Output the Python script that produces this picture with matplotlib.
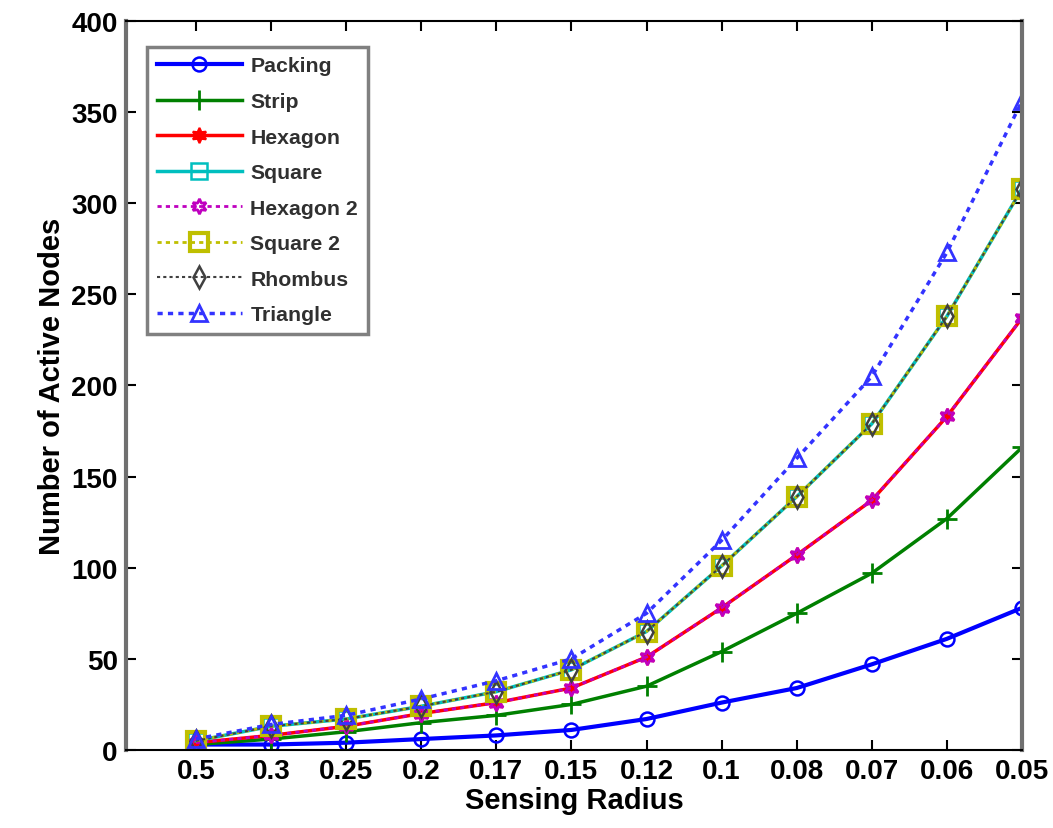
import matplotlib.pyplot as plt
import numpy as np

radius = ['0.5', '0.3', '0.25', '0.2', '0.17', '0.15', '0.12', '0.1', '0.08', '0.07', '0.06', '0.05']
packing = [3, 3, 4, 6, 8, 11, 17, 26, 34, 47, 61, 78]
strip = [3, 6, 10, 15, 19, 25, 35, 54, 75, 97, 127, 166]
hexagon = [4, 8, 13, 20, 26, 34, 51, 78, 107, 137, 183, 237]
hexagon2 = [4, 8, 13, 20, 26, 34, 51, 78, 107, 137, 183, 237]
square = [5, 13, 17, 24, 32, 44, 65, 101, 139, 179, 238, 308]
square2 = [5, 13, 17, 24, 32, 44, 65, 101, 139, 179, 238, 308]
rhombus = [5, 13, 17, 24, 32, 44, 65, 101, 139, 179, 238, 308]
triangle = [6, 14, 19, 28, 38, 50, 75, 115, 160, 205, 273, 356]

x = np.arange(1, len(radius) + 1)

plt.rcParams['font.family'] = ['Liberation Sans', 'DejaVu Sans']

fig = plt.figure(figsize=(10.53, 8.29), dpi=100)
ax = fig.add_axes([0.1197, 0.0941, 0.8509, 0.8794])

# six-pointed star like MATLAB's hexagram
hexagram = (6, 1, 0)
dots = (0, (1.5, 1.5))

ax.plot(x, packing, color='#0000ff', lw=3, marker='o', ms=10, mfc='none', mew=1.8, label='Packing')
ax.plot(x, strip, color='#008000', lw=2.5, marker='+', ms=14, mew=2, label='Strip')
ax.plot(x, hexagon, color='#ff0000', lw=2.5, marker=hexagram, ms=11, mfc='#ff0000', mew=1.5, label='Hexagon')
ax.plot(x, square, color='#00bfbf', lw=2.5, marker='s', ms=11, mfc='none', mew=1.8, label='Square')
ax.plot(x, hexagon2, color='#bf00bf', lw=2, ls=dots, marker=hexagram, ms=11, mfc='none', mew=2, label='Hexagon 2')
ax.plot(x, square2, color='#bfbf00', lw=2, ls=dots, marker='s', ms=13, mfc='none', mew=3, label='Square 2')
ax.plot(x, rhombus, color='#404040', lw=1.5, ls=dots, marker='d', ms=11, mfc='none', mew=1.8, label='Rhombus')
ax.plot(x, triangle, color='#3333ff', lw=2.5, ls=dots, marker='^', ms=12, mfc='none', mew=2, label='Triangle')

ax.set_xlim(0.07, 12)
ax.set_ylim(0, 400)
ax.set_xticks(x)
ax.set_xticklabels(radius)
ax.set_yticks(np.arange(0, 401, 50))
ax.tick_params(direction='in', length=7, width=1.5, labelsize=20, top=True, right=True, pad=6)
for lab in ax.get_xticklabels() + ax.get_yticklabels():
    lab.set_fontweight('bold')
for side in ['left', 'right', 'bottom']:
    ax.spines[side].set_color('#707070')
    ax.spines[side].set_linewidth(3)
ax.spines['bottom'].set_color('black')
ax.spines['bottom'].set_linewidth(1.5)
ax.spines['top'].set_linewidth(1.5)

ax.set_xlabel('Sensing Radius', fontsize=21, fontweight='bold', labelpad=1)
ax.set_ylabel('Number of Active Nodes', fontsize=21, fontweight='bold', labelpad=4)

leg = ax.legend(loc='upper left', fontsize=15.3, frameon=True, fancybox=False,
                edgecolor='#606060', handlelength=4, borderpad=0.45, labelspacing=0.78,
                handletextpad=0.4, bbox_to_anchor=(0.012, 0.979))
leg.get_frame().set_linewidth(2.5)
for t in leg.get_texts():
    t.set_fontweight('bold')
    t.set_color('#303030')

fig.savefig('out.png', dpi=100)
